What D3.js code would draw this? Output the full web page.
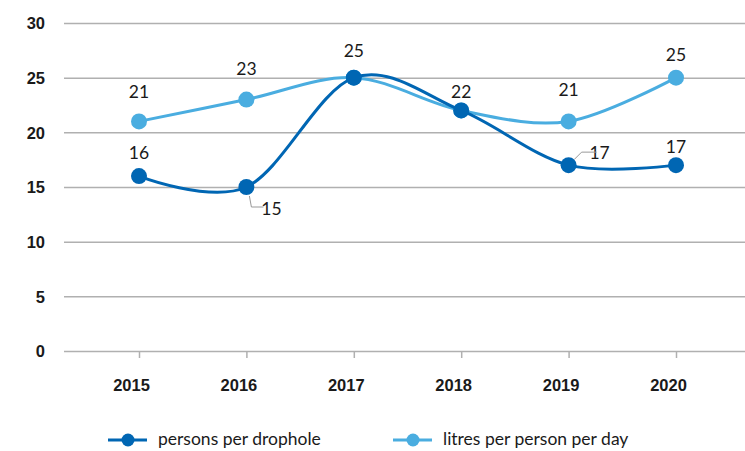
<!DOCTYPE html>
<html lang="en">
<head>
  <meta charset="UTF-8">
  <title>Persons per drophole</title>
  <script src="https://d3js.org/d3.v7.min.js"></script>
  <style>
    body {
      margin: 0;
      background: white;
      font-family: Lato, "Open Sans", sans-serif;
    }
    .grid line { stroke: #b0b0b0; stroke-width: 1.5; }
    .yaxis text { font-size: 16.5px; font-weight: bold; fill: #1a1a1a; }
    .xaxis text { font-size: 16.5px; font-weight: bold; fill: #1a1a1a; }
    .xaxis line { stroke: #b0b0b0; stroke-width: 1.5; }
    .lbl { font-size: 17.5px; fill: #1a1a1a; }
    .leg { font-size: 17.5px; fill: #1a1a1a; }
  </style>
</head>
<body>
  <svg width="745" height="451"></svg>
  <script>
    const years = ["2015", "2016", "2017", "2018", "2019", "2020"];
    const persons = [16, 15, 25, 22, 17, 17];
    const litres = [21, 23, 25, 22, 21, 25];
    const yTicks = [0, 5, 10, 15, 20, 25, 30];

    // label placement: [dx, dy] relative to point
    const personsLabelPos = [[0, -17], [25, 28], [0, -21], [0, -12], [31, -6], [0, -12]];
    const litresLabelPos = [[0, -23], [0, -25], [0, -21], [0, -12], [0, -25], [0, -17]];

    const dark = "#0066b3";
    const light = "#4aade0";

    const svg = d3.select("svg");
    const x = d3.scalePoint().domain(years).range([139, 676]);
    const y = d3.scaleLinear().domain([0, 30]).range([351, 23]);

    // gridlines + y labels
    const yAxis = svg.append("g")
      .attr("class", "grid yaxis")
      .attr("transform", "translate(64,0)")
      .call(d3.axisLeft(y).tickValues(yTicks).tickSize(-681).tickPadding(19));
    yAxis.select(".domain").remove();
    yAxis.selectAll(".tick line").attr("x1", 0).attr("x2", 681);
    yAxis.selectAll("text").attr("dy", "0.36em");

    const xAxis = svg.append("g")
      .attr("class", "xaxis")
      .attr("transform", `translate(0,${y(0)})`)
      .call(d3.axisBottom(x).tickSize(7).tickPadding(21));
    xAxis.select(".domain").remove();
    xAxis.selectAll("text").attr("dx", -8);

    const line = d3.line()
      .x((d, i) => x(years[i]))
      .y(d => y(d))
      .curve(d3.curveCardinal.tension(0));

    function drawSeries(values, color) {
      svg.append("path")
        .datum(values)
        .attr("fill", "none")
        .attr("stroke", color)
        .attr("stroke-width", 3)
        .attr("d", line);
      svg.append("g").selectAll("circle")
        .data(values)
        .join("circle")
        .attr("cx", (d, i) => x(years[i]))
        .attr("cy", d => y(d))
        .attr("r", 8)
        .attr("fill", color);
    }

    drawSeries(litres, light);
    drawSeries(persons, dark);

    function drawLabels(values, pos, skip) {
      values.forEach((v, i) => {
        if (skip.includes(i)) return;
        const px = x(years[i]), py = y(v);
        const [dx, dy] = pos[i];
        svg.append("text")
          .attr("class", "lbl")
          .attr("x", px + dx)
          .attr("y", py + dy)
          .attr("text-anchor", "middle")
          .text(v);
      });
    }
    // 2017 and 2018 share a value, so only one label is shown there
    drawLabels(litres, litresLabelPos, [2, 3]);
    drawLabels(persons, personsLabelPos, []);

    // leader lines
    const leader = d3.line();
    const p16 = [x("2016"), y(persons[1])];
    svg.append("path")
      .attr("d", leader([[p16[0] + 3, p16[1] + 9], [p16[0] + 5, p16[1] + 20], [p16[0] + 17, p16[1] + 20]]))
      .attr("fill", "none").attr("stroke", "#999").attr("stroke-width", 1);
    const p19 = [x("2019"), y(persons[4])];
    svg.append("path")
      .attr("d", leader([[p19[0] + 6, p19[1] - 6], [p19[0] + 13, p19[1] - 13], [p19[0] + 28, p19[1] - 13]]))
      .attr("fill", "none").attr("stroke", "#999").attr("stroke-width", 1);

    // legend
    const legendItems = [
      { name: "persons per drophole", color: dark, x: 108 },
      { name: "litres per person per day", color: light, x: 393 }
    ];
    const lg = svg.append("g").selectAll("g")
      .data(legendItems)
      .join("g")
      .attr("transform", d => `translate(${d.x},440)`);
    lg.append("line").attr("x1", 0).attr("x2", 39)
      .attr("stroke", d => d.color).attr("stroke-width", 3);
    lg.append("circle").attr("cx", 20).attr("r", 6.5).attr("fill", d => d.color);
    lg.append("text").attr("class", "leg").attr("x", 50).attr("y", 0)
      .attr("dy", "0.3em").text(d => d.name);
  </script>
</body>
</html>
